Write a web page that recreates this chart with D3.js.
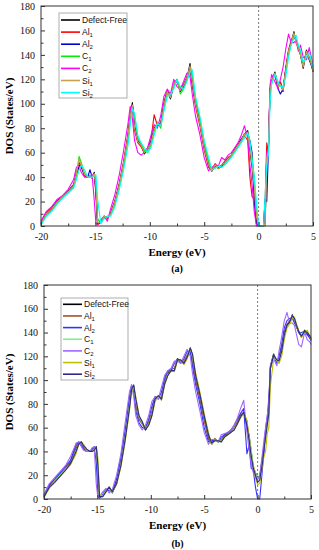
<!DOCTYPE html>
<html><head><meta charset="utf-8">
<script src="https://cdn.jsdelivr.net/npm/d3@7"></script>
<style>body{margin:0;background:#fff}svg{display:block}</style>
</head><body>
<svg id="c" width="319" height="550"></svg>
<script>
const energy = [-20,-19.5,-19,-18.5,-18,-17.5,-17,-16.75,-16.5,-16.3,
 -16.0,-15.7,-15.5,-15.3,-15.1,-14.95,-14.8,-14.5,-14.2,-13.9,
 -13.6,-13.2,-12.8,-12.4,-12.0,-11.8,-11.6,-11.4,-11.1,-10.8,
 -10.5,-10.2,-9.9,-9.6,-9.3,-9.0,-8.7,-8.4,-8.1,-7.8,
 -7.5,-7.2,-6.9,-6.6,-6.3,-6.1,-5.8,-5.4,-5.0,-4.6,
 -4.3,-4.0,-3.7,-3.4,-3.1,-2.8,-2.5,-2.2,-1.9,-1.6,
 -1.3,-1.0,-0.8,-0.6,-0.4,-0.2,0.0,0.2,0.45,0.6,
 0.75,0.9,1.05,1.2,1.5,1.8,2.0,2.25,2.5,2.75,
 3.0,3.25,3.45,3.65,3.85,4.1,4.4,4.65,4.9,5.0];

const seriesNames = ["Defect-Free","Al","Al","C","C","Si","Si"];
const seriesSubs  = ["","1","2","1","2","1","2"];
const xTicks = [-20,-15,-10,-5,0,5];
const xMinorTicks = [-17.5,-12.5,-7.5,-2.5,2.5];
const yTicks = [0,20,40,60,80,100,120,140,160,180];
const yMinorTicks = [10,30,50,70,90,110,130,150,170];

// Panel (a)
const dfA = [2,10,14,20,24,28,33,42,48,50, 41,40,41,39,44,30,2,3,8,7, 10,20,34,52,74,90,101,80,69,66, 59,63,68,80,84,82,100,110,104,116, 120,110,114,120,133,118,100,84,64,50, 45,50,47,49,52,55,58,62,66,70, 75,78,62,48,30,6,0,0,0,2, 58,62,110,118,126,114,117,110,128,143, 150,159,150,146,140,129,144,137,131,126];
const al1A = [3,11,15,20,24,29,34,44,52,49, 41,40,40,40,42,26,1,3,8,6, 11,21,35,53,76,92,99,78,68,65, 60,64,70,91,82,84,101,111,106,117, 118,112,116,122,130,115,98,82,62,48, 46,51,48,50,53,56,58,63,67,71, 74,70,40,24,22,4,0,0,0,20, 68,60,112,119,124,113,118,112,130,144, 152,157,151,145,141,131,143,138,132,127];
const al2A = [2,10,14,21,24,28,33,43,50,48, 42,40,46,40,43,28,2,3,8,7, 10,20,34,51,73,89,99,82,70,66, 60,63,69,79,84,83,99,110,105,115, 119,111,115,121,130,117,101,85,65,50, 45,49,48,49,52,55,58,62,66,71, 75,76,70,60,20,2,0,0,0,22, 20,62,112,118,124,112,108,112,128,142, 150,156,151,147,141,131,143,136,130,126];
const c1A = [1,9,13,19,23,27,32,40,57,52, 43,40,40,39,42,36,6,2,7,8, 9,18,32,50,70,86,98,90,72,67, 62,60,66,77,85,80,96,108,106,114, 120,108,112,119,128,124,104,88,68,53, 46,48,49,48,51,54,57,61,65,69, 74,77,66,56,40,12,0,0,0,0, 55,60,108,117,125,116,115,112,126,142, 149,157,152,148,142,132,142,138,133,128];
const c2A = [4,12,16,22,25,30,38,48,49,44, 40,40,40,42,20,2,1,5,8,4, 14,26,42,62,84,98,88,70,60,58, 60,64,74,83,80,90,106,112,108,120, 114,112,118,125,122,108,90,75,56,45, 48,50,49,56,54,58,60,64,68,74, 82,72,50,34,12,0,0,0,0,2, 60,64,115,124,118,112,120,130,145,157, 150,150,152,143,148,138,136,146,136,130];
const si1A = [2,10,14,20,24,28,33,43,55,50, 42,40,40,40,43,32,3,3,8,7, 10,20,34,52,74,90,99,80,69,66, 60,63,68,79,84,82,99,110,105,116, 119,111,115,121,131,118,100,84,64,50, 45,50,47,50,52,55,58,62,66,70, 75,76,64,50,32,8,0,0,0,2, 56,62,110,118,125,114,116,111,128,143, 150,158,150,146,140,130,143,137,131,126];
const si2A = [1,8,12,18,23,27,31,38,46,50, 46,40,40,40,41,42,22,2,6,8, 8,16,30,46,66,82,96,92,74,68, 64,60,64,74,84,82,94,106,108,112, 120,114,112,118,126,128,106,90,70,56, 46,47,49,48,50,53,56,60,64,68, 72,76,70,54,40,20,0,0,0,25, 50,58,100,116,124,118,114,114,122,138, 148,154,156,148,144,134,138,142,134,130];
const colorsA = ["#000000","#ff0000","#0000cc","#00ee00","#ff00ff","#c8a050","#00ffff"];

// Panel (b)
const dfB = [2,11,15,20,25,31,42,47,48,44, 41,40,40,42,44,22,1,3,7,10, 5,14,30,52,80,93,95,80,68,64, 58,64,72,85,86,84,98,106,108,108, 118,116,114,120,127,118,102,86,68,52, 46,50,48,49,53,55,56,59,64,70, 73,61,54,40,27,22,18,19,35,45, 56,66,75,112,122,115,118,126,140,146, 148,155,150,145,140,137,142,139,136,134];
const al1B = [3,12,16,21,26,32,44,48,47,43, 40,40,41,43,42,18,1,3,8,9, 6,15,32,54,82,94,93,78,67,63, 59,65,73,86,85,86,99,107,109,110, 117,115,116,121,125,116,100,84,66,50, 47,51,48,50,54,55,57,60,65,71, 72,66,50,38,26,20,17,18,32,42, 54,64,78,110,121,116,117,125,139,147, 150,154,149,144,141,136,141,140,137,134];
const al2B = [3,12,17,22,27,33,46,48,45,42, 40,40,42,44,30,2,1,4,8,7, 6,17,35,58,86,96,90,74,64,60, 60,67,78,86,84,90,102,108,108,114, 118,114,118,124,124,112,96,80,60,48, 49,50,48,52,54,56,58,62,67,72, 76,38,45,26,24,10,0,0,25,40, 60,68,85,110,120,114,120,130,144,150, 152,152,148,146,140,140,141,138,135,133];
const c1B = [2,10,15,20,25,30,41,46,48,45, 41,40,40,42,44,24,2,3,7,9, 5,13,29,51,78,92,95,82,69,64, 58,63,71,84,86,84,97,105,108,108, 117,116,114,119,127,120,104,88,70,54, 46,49,48,49,52,54,56,59,63,69, 72,64,52,42,28,22,17,18,32,44, 52,62,70,110,121,116,117,124,138,145, 148,154,151,146,141,138,141,140,137,135];
const c2B = [4,13,18,23,28,36,47,48,44,41, 40,40,43,44,12,1,2,6,9,5, 8,20,38,64,90,96,86,70,62,58, 62,70,82,86,84,94,104,108,110,116, 116,114,120,126,120,106,90,74,56,46, 50,50,48,54,55,56,58,62,68,76, 83,56,42,30,22,18,16,20,38,50, 60,70,80,112,118,112,124,136,150,157, 148,148,146,138,130,128,140,134,132,130];
const si1B = [1,9,14,19,24,29,38,46,48,46, 42,40,40,41,44,34,4,2,6,10, 6,12,27,48,74,90,95,86,70,65, 59,62,70,82,86,83,96,104,108,107, 116,117,113,118,126,122,106,90,72,56, 46,49,49,48,52,54,56,58,63,68, 72,66,52,36,28,18,12,13,28,36, 40,55,60,95,118,117,114,120,134,144, 147,152,153,147,142,136,140,142,137,134];
const si2B = [2,10,14,19,24,30,40,46,48,45, 42,40,40,41,44,28,2,2,6,10, 6,13,28,50,76,92,96,84,70,65, 58,62,70,84,87,84,97,104,108,108, 117,117,114,119,127,122,104,88,70,54, 47,49,49,48,52,54,56,58,63,69, 73,62,50,36,26,20,14,16,30,42, 52,62,72,110,121,117,116,124,138,146, 149,154,152,146,141,137,141,140,137,135];
const colorsB = ["#000000","#a0522d","#3333ff","#88ee88","#a066ff","#c0c000","#2b2b88"];

const svg = d3.select("#c");
const serif = "'Liberation Serif','Times New Roman',serif";
const sans = "'Liberation Sans',Arial,sans-serif";

function panel(cfg){
  const x = d3.scaleLinear().domain([-20,5]).range([cfg.left,cfg.right]);
  const y = d3.scaleLinear().domain([0,180]).range([cfg.bottom,cfg.top]);
  const g = svg.append("g");
  g.append("line").attr("x1",x(0)).attr("x2",x(0)).attr("y1",cfg.top).attr("y2",cfg.bottom)
    .attr("stroke","#555").attr("stroke-width",0.8).attr("stroke-dasharray","2,2");
  const line = d3.line().x((d,i)=>x(energy[i])).y(d=>y(d));
  cfg.series.forEach((s,k)=>{
    g.append("path").attr("d",line(s)).attr("fill","none")
      .attr("stroke",cfg.colors[k]).attr("stroke-width",1.1).attr("stroke-linejoin","round");
  });
  const xa = d3.axisBottom(x).tickValues(xTicks).tickSize(-4).tickPadding(7)
    .tickFormat(d=>d<0?"-"+Math.abs(d):String(d));
  const xm = d3.axisBottom(x).tickValues(xMinorTicks).tickSize(-2.5).tickFormat(()=>"");
  const ya = d3.axisLeft(y).tickValues(yTicks).tickSize(-4).tickPadding(6).tickFormat(d3.format("d"));
  const ym = d3.axisLeft(y).tickValues(yMinorTicks).tickSize(-2.5).tickFormat(()=>"");
  [xa,xm].forEach(a=>{
    const ax = g.append("g").attr("transform",`translate(0,${cfg.bottom})`).call(a);
    ax.select(".domain").remove();
    ax.selectAll("line").attr("stroke","#333");
    ax.selectAll("text").attr("font-family",serif).attr("font-size",10).attr("fill","#111");
  });
  [ya,ym].forEach(a=>{
    const ax = g.append("g").attr("transform",`translate(${cfg.left},0)`).call(a);
    ax.select(".domain").remove();
    ax.selectAll("line").attr("stroke","#333");
    ax.selectAll("text").attr("font-family",serif).attr("font-size",10).attr("fill","#111");
  });
  g.append("rect").attr("x",cfg.left).attr("y",cfg.top).attr("width",cfg.right-cfg.left)
    .attr("height",cfg.bottom-cfg.top).attr("fill","none").attr("stroke","#333").attr("stroke-width",1);
  g.append("text").attr("x",(cfg.left+cfg.right)/2).attr("y",cfg.bottom+30).attr("text-anchor","middle")
    .attr("font-family",serif).attr("font-weight","bold").attr("font-size",11).text("Energy (eV)");
  g.append("text").attr("transform",`translate(13,${(cfg.top+cfg.bottom)/2}) rotate(-90)`)
    .attr("text-anchor","middle").attr("font-family",serif).attr("font-weight","bold").attr("font-size",11)
    .text("DOS (States/eV)");
  g.append("text").attr("x",(cfg.left+cfg.right)/2).attr("y",cfg.labelY).attr("text-anchor","middle")
    .attr("font-family",serif).attr("font-weight","bold").attr("font-size",10).text(cfg.label);
  const L = cfg.legend;
  g.append("rect").attr("x",L.x).attr("y",L.y).attr("width",L.w).attr("height",L.h)
    .attr("fill","#fff").attr("stroke","#999").attr("stroke-width",0.8);
  seriesNames.forEach((nm,k)=>{
    const yy = L.y0 + k*L.dy;
    g.append("line").attr("x1",L.x+2).attr("x2",L.x+21).attr("y1",yy).attr("y2",yy)
      .attr("stroke",cfg.colors[k]).attr("stroke-width",1.6);
    const t = g.append("text").attr("x",L.x+23).attr("y",yy+3).attr("font-family",sans).attr("font-size",8.5).attr("fill","#111");
    t.append("tspan").text(nm);
    if(seriesSubs[k]) t.append("tspan").attr("font-size",6).attr("dy",2).text(seriesSubs[k]);
  });
}

panel({left:41,right:313,top:6,bottom:226,label:"(a)",labelY:272,
  series:[dfA,al1A,al2A,c1A,c2A,si1A,si2A],colors:colorsA,
  legend:{x:59,y:13,w:68,h:85,y0:20,dy:12.1}});
panel({left:44,right:311,top:285,bottom:499,label:"(b)",labelY:547,
  series:[dfB,al1B,al2B,c1B,c2B,si1B,si2B],colors:colorsB,
  legend:{x:61,y:298,w:67,h:82,y0:304.3,dy:11.65}});
</script>
</body></html>
